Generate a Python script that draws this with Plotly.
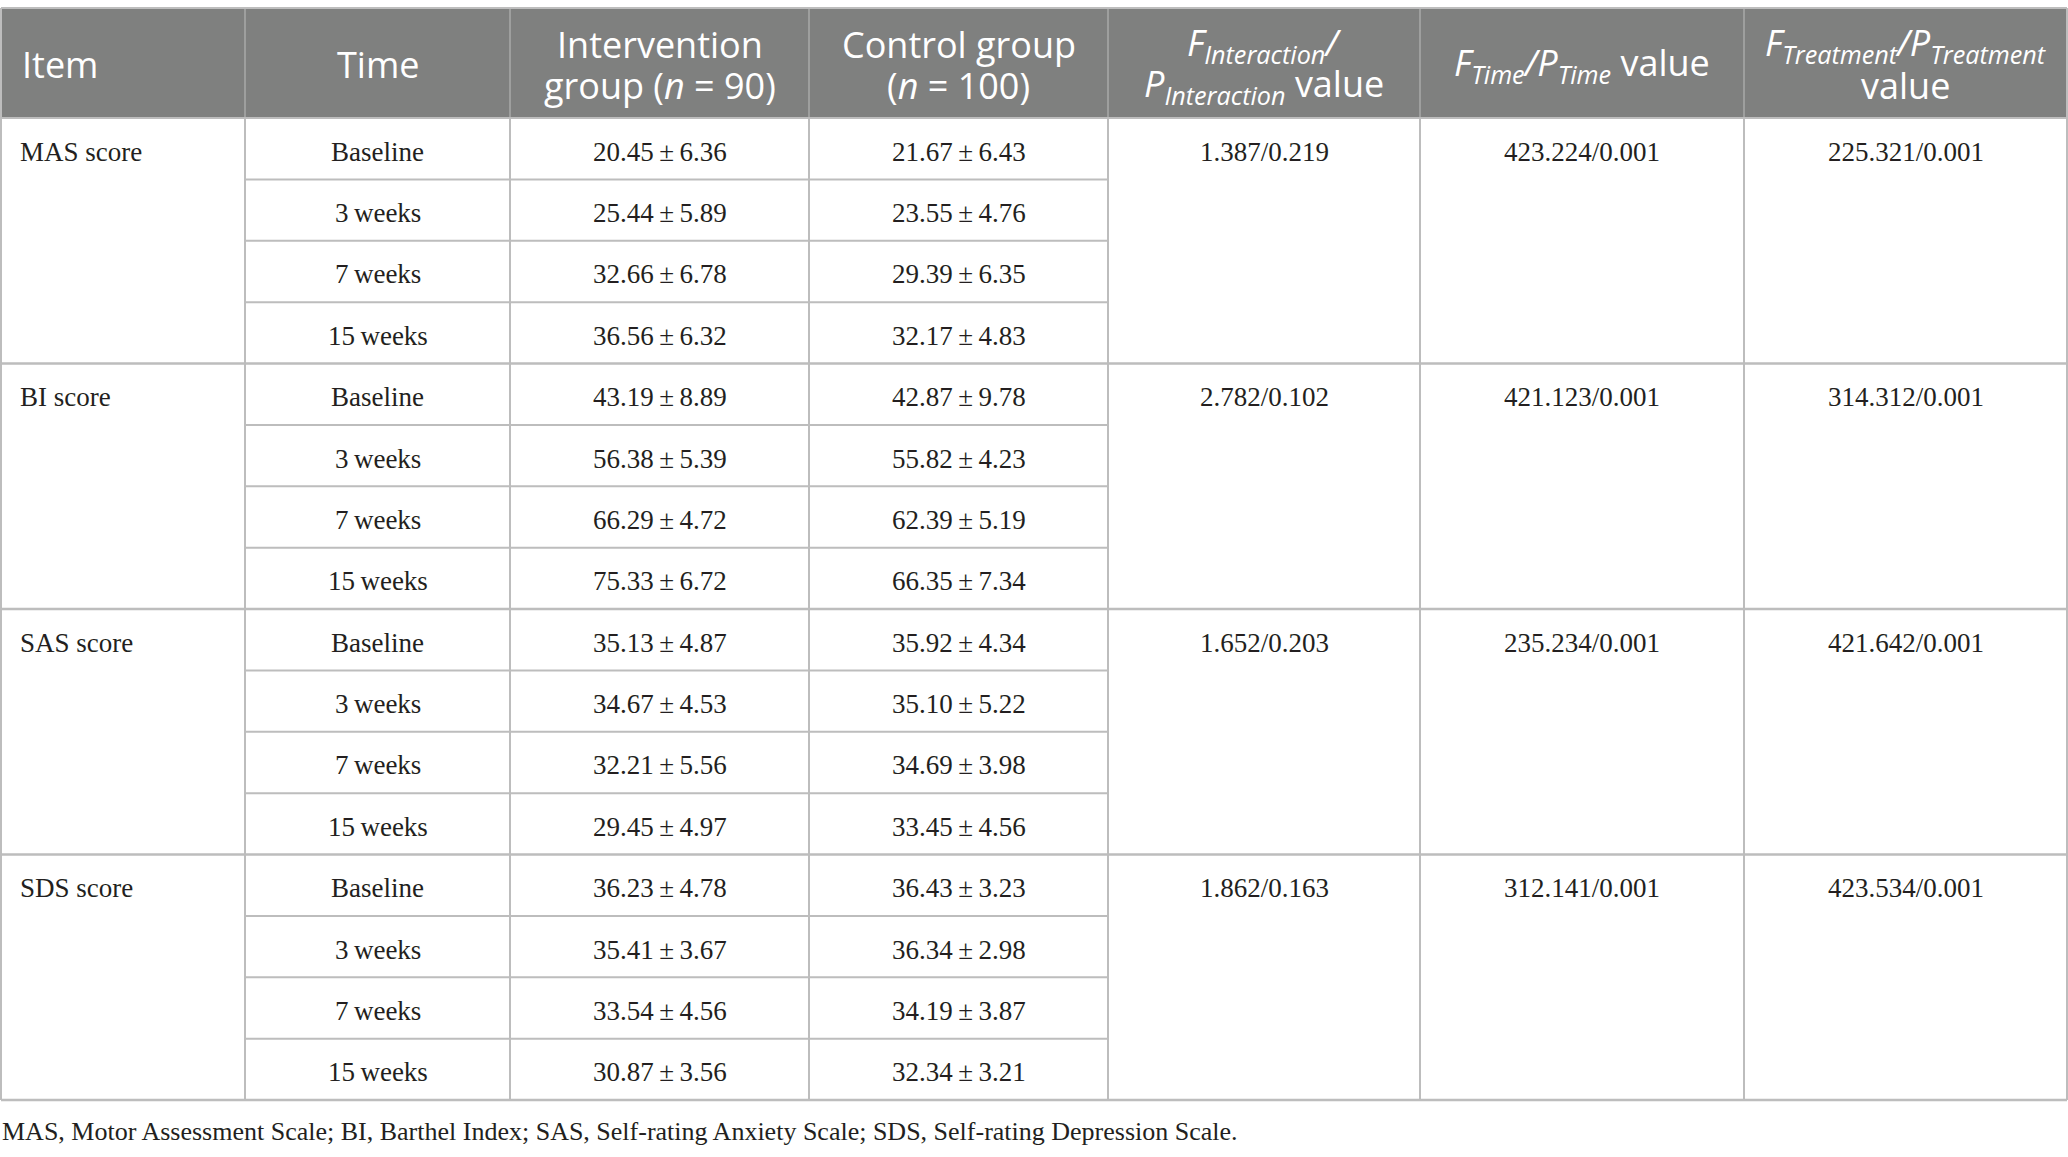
import plotly.graph_objects as go

# ---------------- data ----------------
items = ["MAS score", "BI score", "SAS score", "SDS score"]
times = ["Baseline", "3 weeks", "7 weeks", "15 weeks"]

intervention_mean = [["20.45", "25.44", "32.66", "36.56"],
                     ["43.19", "56.38", "66.29", "75.33"],
                     ["35.13", "34.67", "32.21", "29.45"],
                     ["36.23", "35.41", "33.54", "30.87"]]
intervention_sd = [["6.36", "5.89", "6.78", "6.32"],
                   ["8.89", "5.39", "4.72", "6.72"],
                   ["4.87", "4.53", "5.56", "4.97"],
                   ["4.78", "3.67", "4.56", "3.56"]]
control_mean = [["21.67", "23.55", "29.39", "32.17"],
                ["42.87", "55.82", "62.39", "66.35"],
                ["35.92", "35.10", "34.69", "33.45"],
                ["36.43", "36.34", "34.19", "32.34"]]
control_sd = [["6.43", "4.76", "6.35", "4.83"],
              ["9.78", "4.23", "5.19", "7.34"],
              ["4.34", "5.22", "3.98", "4.56"],
              ["3.23", "2.98", "3.87", "3.21"]]

f_interaction = ["1.387/0.219", "2.782/0.102", "1.652/0.203", "1.862/0.163"]
f_time = ["423.224/0.001", "421.123/0.001", "235.234/0.001", "312.141/0.001"]
f_treatment = ["225.321/0.001", "314.312/0.001", "421.642/0.001", "423.534/0.001"]

header_lines = [
    ["Item"],
    ["Time"],
    ["Intervention", "group (<i>n</i> = 90)"],
    ["Control group", "(<i>n</i> = 100)"],
    ["<i>F</i><sub><i>Interaction</i></sub><i>/</i>",
     "<i>P</i><sub><i>Interaction</i></sub> value"],
    ["<i>F</i><sub><i>Time</i></sub><i>/</i><i>P</i><sub><i>Time</i></sub> value"],
    ["<i>F</i><sub><i>Treatment</i></sub><i>/</i><i>P</i><sub><i>Treatment</i></sub>",
     "value"],
]

footnote = ("MAS, Motor Assessment Scale; BI, Barthel Index; SAS, Self-rating Anxiety "
            "Scale; SDS, Self-rating Depression Scale.")

# ---------------- layout geometry ----------------
W, H = 2068, 1157
col_edges = [1, 245, 510, 809, 1108, 1420, 1744, 2067]
top, head_bot, row_h = 8, 118, 61.375
n_rows = len(items) * len(times)
bottom = head_bot + n_rows * row_h

HEAD_FONT = "Open Sans"
BODY_FONT = "Liberation Serif"
head_bg = "#7f807f"
line_c = "#bdbdbd"
TS = "\u2009"

shapes = []
annotations = []


def line(x0, y0, x1, y1, w=2, c=line_c):
    shapes.append(dict(type="line", xref="x", yref="y", x0=x0, y0=y0, x1=x1, y1=y1,
                       line=dict(color=c, width=w), layer="above"))


# header background
shapes.append(dict(type="rect", xref="x", yref="y", x0=col_edges[0], x1=col_edges[-1],
                   y0=top, y1=head_bot, fillcolor=head_bg, line=dict(width=0), layer="below"))

# header vertical separators (lighter)
for x in col_edges[1:-1]:
    line(x, top, x, head_bot, w=1.5, c="#a9aaa9")

# outer border
line(col_edges[0], top, col_edges[-1], top, w=2)
line(col_edges[0], top, col_edges[0], bottom, w=2)
line(col_edges[-1], top, col_edges[-1], bottom, w=2)
line(col_edges[0], head_bot, col_edges[-1], head_bot, w=2)

# body verticals
for x in col_edges[1:-1]:
    line(x, head_bot, x, bottom, w=2)

# horizontal lines
for g in range(len(items)):
    for r in range(len(times)):
        y = head_bot + (g * len(times) + r + 1) * row_h
        if r == len(times) - 1:
            line(col_edges[0], y, col_edges[-1], y, w=2.5)
        else:
            line(col_edges[1], y, col_edges[4], y, w=2)

# header text
head_font = dict(family=HEAD_FONT, size=36, color="white")
for c, lines_ in enumerate(header_lines):
    cx = (col_edges[c] + col_edges[c + 1]) / 2
    ys = [64] if len(lines_) == 1 else [44, 85]
    for t, y in zip(lines_, ys):
        if c == 0:
            annotations.append(dict(x=col_edges[0] + 19, y=y, xref="x", yref="y", text=t,
                                    showarrow=False, xanchor="left", yanchor="middle",
                                    font=head_font))
        else:
            annotations.append(dict(x=cx, y=y, xref="x", yref="y", text=t,
                                    showarrow=False, xanchor="center", yanchor="middle",
                                    font=head_font))

body_font = dict(family=BODY_FONT, size=27, color="#231f20")


def cell(x, y, t, anchor="center", font=body_font):
    annotations.append(dict(x=x, y=y, xref="x", yref="y", text=t, showarrow=False,
                            xanchor=anchor, yanchor="middle", font=font))


def ccx(c):
    return (col_edges[c] + col_edges[c + 1]) / 2


for g, item in enumerate(items):
    y_first = head_bot + (g * len(times) + 0.5) * row_h + 3
    cell(col_edges[0] + 17, y_first, item, anchor="left")
    cell(ccx(4), y_first, f_interaction[g])
    cell(ccx(5), y_first, f_time[g])
    cell(ccx(6), y_first, f_treatment[g])
    for r, t in enumerate(times):
        y = head_bot + (g * len(times) + r + 0.5) * row_h + 3
        cell(ccx(1), y, t.replace(" ", TS))
        cell(ccx(2), y, f"{intervention_mean[g][r]}{TS}±{TS}{intervention_sd[g][r]}")
        cell(ccx(3), y, f"{control_mean[g][r]}{TS}±{TS}{control_sd[g][r]}")

cell(col_edges[0] - 1, 1131, footnote, anchor="left",
     font=dict(family=BODY_FONT, size=26, color="#231f20"))

fig = go.Figure()
fig.add_trace(go.Scatter(x=[1, W - 1], y=[1, H - 1], mode="markers",
                         marker=dict(opacity=0), hoverinfo="skip", showlegend=False))
fig.update_layout(
    width=W, height=H, margin=dict(l=0, r=0, t=0, b=0),
    paper_bgcolor="white", plot_bgcolor="white",
    xaxis=dict(range=[0, W], visible=False, fixedrange=True),
    yaxis=dict(range=[H, 0], visible=False, fixedrange=True),
    shapes=shapes, annotations=annotations, showlegend=False,
)
fig.write_html("out.html",
               config={"displayModeBar": False, "staticPlot": True},
               post_script="document.body.style.margin='0';"
                           "document.body.style.overflow='hidden';")
